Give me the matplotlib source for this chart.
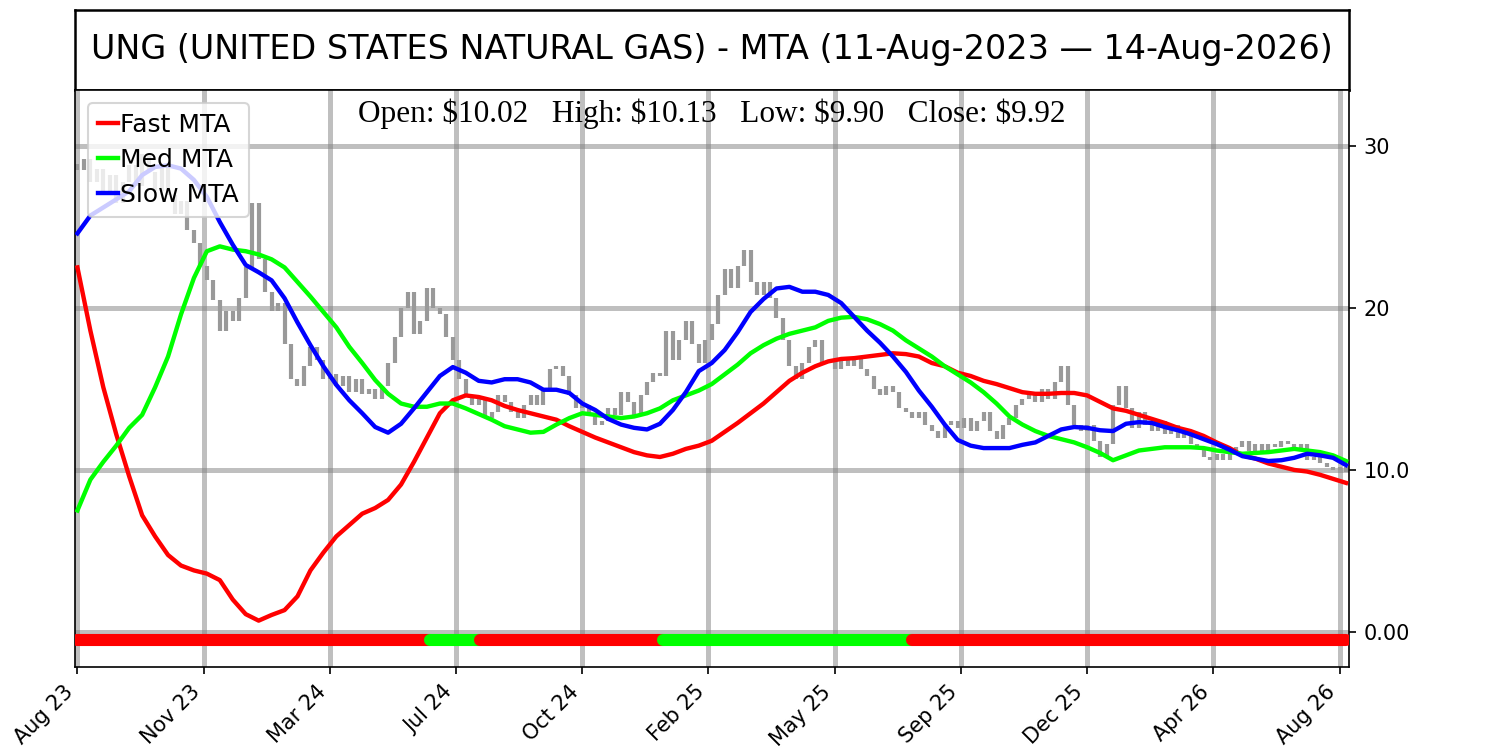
import numpy as np
import matplotlib
matplotlib.use("Agg")
from matplotlib import pyplot as plt

# ---- data ----
ticker_title = "UNG (UNITED STATES NATURAL GAS) - MTA (11-Aug-2023 \u2014 14-Aug-2026)"
ohlc_text = r"Open: \$10.02   High: \$10.13   Low: \$9.90   Close: \$9.92"

tick_step = 78
tick_labels = ["Aug 23", "Nov 23", "Mar 24", "Jul 24", "Oct 24", "Feb 25",
               "May 25", "Sep 25", "Dec 25", "Apr 26", "Aug 26"]
ytick_values = [0, 10, 20, 30]
ytick_labels = ["0.00", "10.0", "20", "30"]

# price closes, one every 4 trading days
price_step = 4
price_close = [
    28.5, 29.2, 27.8, 28.6, 27.0, 28.2, 26.5, 27.8, 28.8, 27.5,
    29.5, 28.4, 27.2, 28.7, 27.0, 25.8, 26.6, 24.8, 24.0, 22.6,
    21.7, 20.5, 18.6, 19.8, 19.2, 20.6, 22.5, 26.5, 23.0, 21.0,
    19.8, 20.3, 17.8, 15.6, 15.2, 16.4, 17.6, 16.8, 15.6, 15.9,
    15.2, 15.8, 14.8, 15.6, 14.7, 15.0, 14.4, 15.2, 16.6, 18.2,
    20.0, 21.0, 18.4, 19.2, 21.2, 20.0, 19.6, 18.2, 16.8, 15.6,
    14.6, 14.0, 14.4, 13.2, 13.6, 14.6, 14.2, 13.6, 13.2, 14.0,
    14.6, 14.0, 15.0, 16.2, 16.4, 15.8, 14.6, 13.8, 14.0, 13.4,
    12.8, 13.0, 13.8, 13.4, 14.8, 14.2, 13.4, 14.6, 15.4, 16.0,
    15.8, 18.6, 16.8, 18.0, 19.2, 17.8, 16.6, 18.0, 19.0, 20.8,
    22.4, 21.2, 22.6, 23.6, 21.6, 20.8, 21.6, 20.6, 19.4, 18.0,
    16.4, 15.6, 16.6, 17.6, 18.0, 16.6, 16.8, 16.2, 16.8, 16.4,
    17.0, 16.2, 15.8, 15.0, 14.6, 15.2, 14.8, 13.8, 13.6, 13.2,
    13.6, 12.8, 12.4, 12.0, 12.8, 13.0, 12.6, 13.2, 12.4, 13.0,
    13.6, 12.4, 11.9, 12.8, 13.2, 14.0, 14.4, 14.6, 14.2, 15.0,
    14.4, 15.4, 16.4, 14.0, 12.8, 12.4, 12.8, 11.8, 10.8, 11.6,
    14.0, 15.2, 13.8, 12.6, 13.6, 12.8, 12.4, 13.0, 12.2, 12.8,
    12.0, 12.2, 11.6, 11.4, 10.8, 10.6, 11.0, 10.6, 11.0, 11.4,
    11.8, 11.2, 11.6, 11.2, 11.6, 11.4, 11.8, 11.6, 11.2, 11.6,
    10.6, 10.8, 10.4, 10.2, 10.0, 10.2, 9.9,
]

# moving-trend averages, one value every 8 trading days
mta_step = 8
fast_mta = [
    22.5, 18.6, 15.1, 12.2, 9.6, 7.2, 5.9, 4.75, 4.1, 3.8,
    3.6, 3.2, 2.0, 1.1, 0.7, 1.05, 1.35, 2.2, 3.8, 4.9,
    5.9, 6.6, 7.3, 7.65, 8.15, 9.1, 10.5, 12.0, 13.5, 14.3,
    14.6, 14.5, 14.3, 13.95, 13.7, 13.5, 13.3, 13.1, 12.7, 12.35,
    12.0, 11.7, 11.4, 11.1, 10.9, 10.8, 11.0, 11.3, 11.5, 11.8,
    12.35, 12.9, 13.5, 14.1, 14.8, 15.5, 16.0, 16.4, 16.7, 16.85,
    16.9, 17.0, 17.1, 17.2, 17.15, 17.0, 16.6, 16.4, 16.0, 15.8,
    15.5, 15.3, 15.05, 14.8, 14.7, 14.7, 14.75, 14.75, 14.6, 14.2,
    13.8, 13.65, 13.4, 13.15, 12.9, 12.6, 12.4, 12.1, 11.7, 11.35,
    10.9, 10.7, 10.4, 10.2, 10.0, 9.9, 9.7, 9.45, 9.2,
]
med_mta = [
    7.5, 9.4, 10.5, 11.5, 12.6, 13.4, 15.1, 17.0, 19.6, 21.85,
    23.5, 23.8, 23.6, 23.5, 23.3, 23.0, 22.5, 21.6, 20.7, 19.75,
    18.8, 17.6, 16.6, 15.55, 14.7, 14.1, 13.9, 13.9, 14.1, 14.1,
    13.8, 13.45, 13.1, 12.7, 12.5, 12.3, 12.35, 12.8, 13.2, 13.5,
    13.4, 13.3, 13.2, 13.3, 13.5, 13.8, 14.3, 14.6, 14.9, 15.3,
    15.9, 16.5, 17.2, 17.7, 18.1, 18.4, 18.6, 18.8, 19.2, 19.4,
    19.45, 19.3, 19.0, 18.6, 18.0, 17.5, 17.0, 16.4, 15.9, 15.4,
    14.8, 14.1, 13.3, 12.8, 12.4, 12.1, 11.9, 11.7, 11.4, 11.05,
    10.6, 10.9, 11.2, 11.3, 11.4, 11.4, 11.4, 11.35, 11.2, 11.1,
    11.0, 11.05, 11.1, 11.2, 11.3, 11.2, 11.1, 10.9, 10.55,
]
slow_mta = [
    24.6, 25.7, 26.2, 26.7, 27.2, 28.2, 28.7, 28.8, 28.6, 27.9,
    26.85, 25.3, 23.9, 22.65, 22.2, 21.7, 20.6, 19.1, 17.7, 16.4,
    15.25, 14.3, 13.5, 12.65, 12.3, 12.85, 13.8, 14.8, 15.8, 16.35,
    16.0, 15.5, 15.4, 15.6, 15.6, 15.4, 14.95, 14.95, 14.75, 14.1,
    13.7, 13.15, 12.8, 12.6, 12.5, 12.85, 13.7, 14.8, 16.1, 16.6,
    17.4, 18.5, 19.75, 20.55, 21.2, 21.3, 21.0, 21.0, 20.8, 20.3,
    19.45, 18.6, 17.85, 17.0, 16.05, 14.9, 13.9, 12.8, 11.85, 11.5,
    11.35, 11.35, 11.35, 11.55, 11.7, 12.1, 12.5, 12.65, 12.6, 12.45,
    12.4, 12.85, 12.95, 12.9, 12.65, 12.45, 12.2, 11.9, 11.6, 11.25,
    10.85, 10.7, 10.55, 10.6, 10.75, 11.0, 10.9, 10.75, 10.3,
]

# trend-signal strip along the bottom
signal_start = [0, 218, 249, 362, 516]
signal_end = [218, 249, 362, 516, 784]
signal_up = [False, True, False, True, False]
signal_level = -0.5

# ---- figure ----
fig = plt.figure(figsize=(10, 5), dpi=150)
ax_title = fig.add_axes([0.05, 0.88, 0.8493, 0.1067])
ax = fig.add_axes([0.05, 0.1107, 0.8493, 0.7693])

ax_title.set_xticks([])
ax_title.set_yticks([])
for sp in ax_title.spines.values():
    sp.set_linewidth(1.2)
ax_title.text(0.5, 0.5, ticker_title, ha="center", va="center", fontsize=16)

ax.grid(True, color="gray", alpha=0.5, linewidth=2.4, zorder=0)

# price bars: each bar spans previous close to current close
price_x = np.arange(len(price_close)) * price_step
closes = np.array(price_close)
prev = np.concatenate([[closes[0] + 0.4], closes[:-1]])
ax.vlines(price_x, np.minimum(prev, closes), np.maximum(prev, closes),
          color="#999999", linewidth=2.0, zorder=2)

mta_x = np.arange(len(fast_mta)) * mta_step
ax.plot(mta_x, fast_mta, color="red", lw=2.1, label="Fast MTA", zorder=3)
ax.plot(mta_x, med_mta, color="#00ff00", lw=2.1, label="Med MTA", zorder=3)
ax.plot(mta_x, slow_mta, color="blue", lw=2.1, label="Slow MTA", zorder=3)

for s, e, up in zip(signal_start, signal_end, signal_up):
    ax.plot([s, e], [signal_level, signal_level],
            color="#00ff00" if up else "red", lw=5.8,
            solid_capstyle="round", zorder=4)

ax.set_xlim(-1.5, 785.8)
ax.set_ylim(-2.16, 33.45)
ax.set_xticks(np.arange(len(tick_labels)) * tick_step)
ax.set_xticklabels(tick_labels, rotation=45, ha="right")
ax.yaxis.tick_right()
ax.set_yticks(ytick_values)
ax.set_yticklabels(ytick_labels)

ax.text(0.5, 0.985, ohlc_text, transform=ax.transAxes, ha="center", va="top",
        fontsize=15, family="Liberation Serif", zorder=6)

leg = ax.legend(loc="upper left", fontsize=12, handlelength=0.8,
                handletextpad=0.1, borderaxespad=0.5, borderpad=0.4,
                labelspacing=0.45)
leg.set_zorder(7)

fig.savefig("out.png", dpi=150)
